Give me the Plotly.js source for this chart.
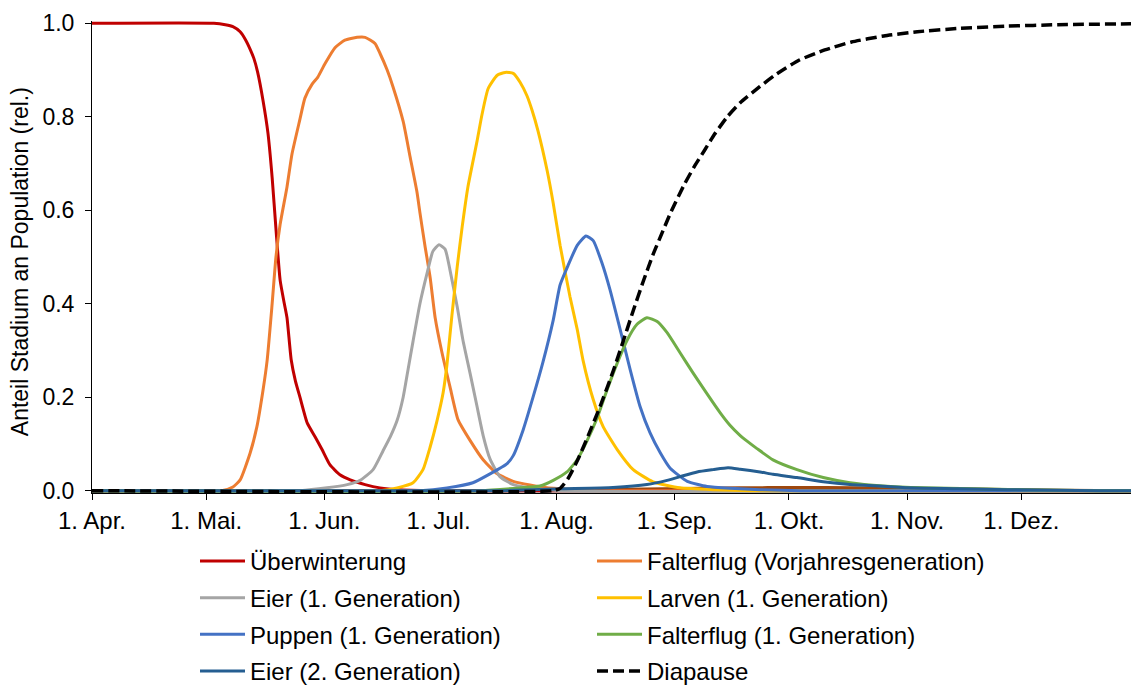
<!DOCTYPE html>
<html>
<head>
<meta charset="utf-8">
<script src="https://cdn.plot.ly/plotly-3.0.1.min.js"></script>
<style>html,body{margin:0;padding:0;background:#fff;}#chart{width:1131px;height:686px;}</style>
</head>
<body>
<div id="chart"></div>
<script>
// x values: days since 1 April
const tickDays = [0, 30, 61, 91, 122, 153, 183, 214, 244];
const tickLabels = ['1. Apr.', '1. Mai.', '1. Jun.', '1. Jul.', '1. Aug.', '1. Sep.', '1. Okt.', '1. Nov.', '1. Dez.'];
const endDay = 272.8;
const yTitle = 'Anteil Stadium an Population (rel.)';

const uwDays = [0, 32, 35, 37, 38.9, 40.3, 41.5, 42.5, 43.5, 44.9, 46.2, 47.3, 48.3, 49.4, 50.5, 51.2, 52.3, 53.4, 54.6, 56.5, 58.6, 60.4, 62.5, 65.1, 67.8, 71.7, 75.6, 80.9, 91.4, 272.8];
const uwVals = [1, 1, 0.997, 0.993, 0.982, 0.965, 0.945, 0.925, 0.895, 0.835, 0.765, 0.67, 0.56, 0.45, 0.40, 0.37, 0.28, 0.235, 0.20, 0.145, 0.115, 0.088, 0.055, 0.034, 0.023, 0.013, 0.006, 0.002, 0, 0];

const fvDays = [0, 34, 37, 38.9, 41.5, 43.3, 44.9, 46, 47.3, 48.3, 49.4, 51.2, 52.5, 54.6, 55.9, 57.8, 59.3, 61.2, 63.8, 66.4, 69.6, 71.7, 74.3, 75.6, 77.5, 79, 81.7, 83.5, 85.3, 86.1, 87.4, 88.8, 90.1, 91.9, 94, 96.1, 99.3, 102.7, 106.4, 110.6, 115, 119.5, 127, 133, 272.8];
const fvVals = [0, 0, 0.008, 0.023, 0.08, 0.137, 0.215, 0.28, 0.40, 0.50, 0.57, 0.65, 0.72, 0.795, 0.84, 0.87, 0.885, 0.914, 0.948, 0.964, 0.97, 0.97, 0.957, 0.936, 0.90, 0.865, 0.79, 0.715, 0.64, 0.595, 0.525, 0.455, 0.37, 0.295, 0.222, 0.152, 0.107, 0.066, 0.036, 0.02, 0.012, 0.006, 0.002, 0, 0];

const ei1Days = [0, 54.6, 61.7, 67, 70.4, 73.8, 76.4, 78.3, 80.1, 81.7, 83, 84.3, 86.1, 88, 89.5, 91.1, 92.7, 94, 95.9, 97.4, 99.3, 101.1, 102.7, 104.5, 107.1, 110.6, 115, 123, 272.8];
const ei1Vals = [0, 0, 0.006, 0.013, 0.022, 0.045, 0.085, 0.115, 0.15, 0.20, 0.26, 0.32, 0.40, 0.466, 0.512, 0.526, 0.517, 0.472, 0.393, 0.322, 0.25, 0.18, 0.118, 0.068, 0.03, 0.013, 0.006, 0, 0];

const la1Days = [0, 75.6, 80.1, 84.3, 86.9, 88.8, 90.6, 92.2, 93.2, 94.5, 95.9, 97.2, 98.7, 101.1, 102.4, 104, 106.4, 108.5, 110.6, 112.4, 114.2, 115.5, 117.1, 119.5, 121.1, 122.9, 125.5, 127.4, 128.9, 131.6, 134.2, 137.9, 142.1, 147.3, 154.4, 163.1, 172.8, 272.8];
const la1Vals = [0, 0, 0.006, 0.017, 0.045, 0.094, 0.15, 0.21, 0.27, 0.375, 0.48, 0.565, 0.65, 0.748, 0.805, 0.86, 0.889, 0.895, 0.893, 0.874, 0.845, 0.815, 0.77, 0.685, 0.615, 0.525, 0.415, 0.345, 0.28, 0.195, 0.137, 0.088, 0.045, 0.019, 0.006, 0.002, 0, 0];

const pu1Days = [0, 86.1, 93.2, 100, 104.5, 109, 110.6, 113.2, 115.8, 118.4, 121.1, 122.9, 125, 127.4, 129.7, 131.6, 133.9, 136, 138.7, 141.3, 143.9, 146.5, 149.2, 151.8, 156.3, 161.5, 167.5, 175.4, 186, 272.8];
const pu1Vals = [0, 0, 0.006, 0.017, 0.036, 0.058, 0.075, 0.13, 0.20, 0.275, 0.365, 0.44, 0.482, 0.525, 0.545, 0.535, 0.487, 0.43, 0.344, 0.259, 0.18, 0.124, 0.081, 0.048, 0.02, 0.009, 0.005, 0.002, 0, 0];

const fl1Days = [0, 101.9, 112.4, 117.6, 121.1, 124.7, 127.4, 130, 132.6, 135.2, 137.9, 140.5, 143.1, 145.7, 148.4, 151, 154.4, 157.8, 161.5, 164.9, 167.5, 170.2, 172, 174.6, 178.8, 185.1, 192, 199, 207.7, 218.2, 231.4, 244.5, 264.7, 272.8];
const fl1Vals = [0, 0, 0.006, 0.01, 0.022, 0.04, 0.066, 0.107, 0.155, 0.215, 0.273, 0.322, 0.356, 0.37, 0.362, 0.338, 0.295, 0.252, 0.207, 0.167, 0.14, 0.118, 0.106, 0.09, 0.066, 0.045, 0.028, 0.017, 0.01, 0.006, 0.004, 0.002, 0, 0];

const ei2Days = [0, 107, 122.9, 136.8, 145.7, 151, 154.4, 158.9, 163.1, 167, 170.2, 175.4, 178.8, 185.1, 192, 199, 208.8, 214, 227.2, 240.3, 264.7, 272.8];
const ei2Vals = [0, 0, 0.004, 0.007, 0.013, 0.022, 0.03, 0.04, 0.045, 0.049, 0.046, 0.04, 0.035, 0.028, 0.019, 0.013, 0.009, 0.006, 0.004, 0.002, 0, 0];

// unlabelled series near zero
const brDays = [0, 110, 130, 150, 170, 185, 200, 215, 235, 255, 272.8];
const brVals = [0, 0, 0.002, 0.004, 0.006, 0.007, 0.006, 0.005, 0.003, 0.001, 0];
const grDays = [0, 272.8];
const grVals = [0, 0];

const diaDays = [0, 121, 122.9, 125, 127.6, 130.5, 133.4, 136.8, 139.4, 142.1, 144.7, 147.3, 149.9, 152.1, 155.5, 158.1, 160.8, 163.4, 166.8, 170.2, 175.4, 179.3, 185.6, 192.4, 199.4, 207.9, 216.7, 227.3, 240.4, 253.6, 272.8];
const diaVals = [0, 0, 0.005, 0.026, 0.067, 0.122, 0.18, 0.255, 0.318, 0.385, 0.447, 0.505, 0.556, 0.598, 0.655, 0.693, 0.728, 0.762, 0.80, 0.83, 0.865, 0.889, 0.921, 0.943, 0.96, 0.973, 0.982, 0.989, 0.994, 0.997, 0.999];

const FONT = 'Liberation Sans, Arial, sans-serif';

function line(name, x, y, color, legend, opts) {
  opts = opts || {};
  return {
    type: 'scatter', mode: 'lines', name: name, x: x, y: y,
    line: {color: color, width: opts.width || 3, shape: 'spline', smoothing: 0.5, dash: opts.dash || 'solid'},
    legend: legend, legendgroup: name, showlegend: opts.showlegend !== false,
    hoverinfo: 'skip'
  };
}

const traces = [
  line('base', grDays, grVals, '#7F7F7F', 'legend', {showlegend: false, width: 3.5}),
  line('br', brDays, brVals, '#9E480E', 'legend', {showlegend: false}),
  line('Überwinterung', uwDays, uwVals, '#C00000', 'legend'),
  line('Falterflug (Vorjahresgeneration)', fvDays, fvVals, '#ED7D31', 'legend2'),
  line('Eier (1. Generation)', ei1Days, ei1Vals, '#A5A5A5', 'legend'),
  line('Larven (1. Generation)', la1Days, la1Vals, '#FFC000', 'legend2'),
  line('Puppen (1. Generation)', pu1Days, pu1Vals, '#4472C4', 'legend'),
  line('Falterflug (1. Generation)', fl1Days, fl1Vals, '#70AD47', 'legend2'),
  line('Eier (2. Generation)', ei2Days, ei2Vals, '#255E91', 'legend'),
  line('Diapause', diaDays, diaVals, '#000000', 'legend2', {dash: '11px,5px', width: 3.5})
];

const legendCommon = {
  xref: 'container', yref: 'container', xanchor: 'left', yanchor: 'top',
  orientation: 'v', traceorder: 'grouped', tracegroupgap: 2.4,
  font: {family: FONT, size: 24, color: '#000'},
  itemwidth: 45, bgcolor: 'rgba(0,0,0,0)', borderwidth: 0
};

const layout = {
  width: 1131, height: 686,
  margin: {l: 92, r: 0, t: 21, b: 193, pad: 0, autoexpand: false},
  paper_bgcolor: '#fff', plot_bgcolor: '#fff',
  font: {family: FONT, size: 22, color: '#000'},
  showlegend: true,
  xaxis: {
    range: [0, endDay], tickvals: tickDays, ticktext: tickLabels,
    ticks: 'outside', ticklen: 6, tickwidth: 1, tickcolor: '#000',
    showline: true, linecolor: '#000', linewidth: 1,
    showgrid: false, zeroline: false, automargin: false,
    tickfont: {family: FONT, size: 24, color: '#000'}
  },
  yaxis: {
    range: [-0.005, 1.005], tickvals: [0, 0.2, 0.4, 0.6, 0.8, 1.0],
    ticktext: ['0.0', '0.2', '0.4', '0.6', '0.8', '1.0'],
    ticks: 'outside', ticklen: 6, tickwidth: 1, tickcolor: '#000',
    ticklabelstandoff: 6,
    showline: true, linecolor: '#000', linewidth: 1,
    showgrid: false, zeroline: false, automargin: false,
    tickfont: {family: FONT, size: 23, color: '#000'}
  },
  annotations: [{
    text: yTitle, xref: 'paper', yref: 'paper',
    x: (20 - 92) / 1039, y: 0.489, xanchor: 'center', yanchor: 'middle',
    textangle: -90, showarrow: false,
    font: {family: FONT, size: 23, color: '#000'}
  }],
  legend: Object.assign({}, legendCommon, {x: 195 / 1131, y: 1 - 539 / 686}),
  legend2: Object.assign({}, legendCommon, {x: 592 / 1131, y: 1 - 539 / 686})
};

Plotly.newPlot('chart', traces, layout, {staticPlot: true, displayModeBar: false});
</script>
</body>
</html>
